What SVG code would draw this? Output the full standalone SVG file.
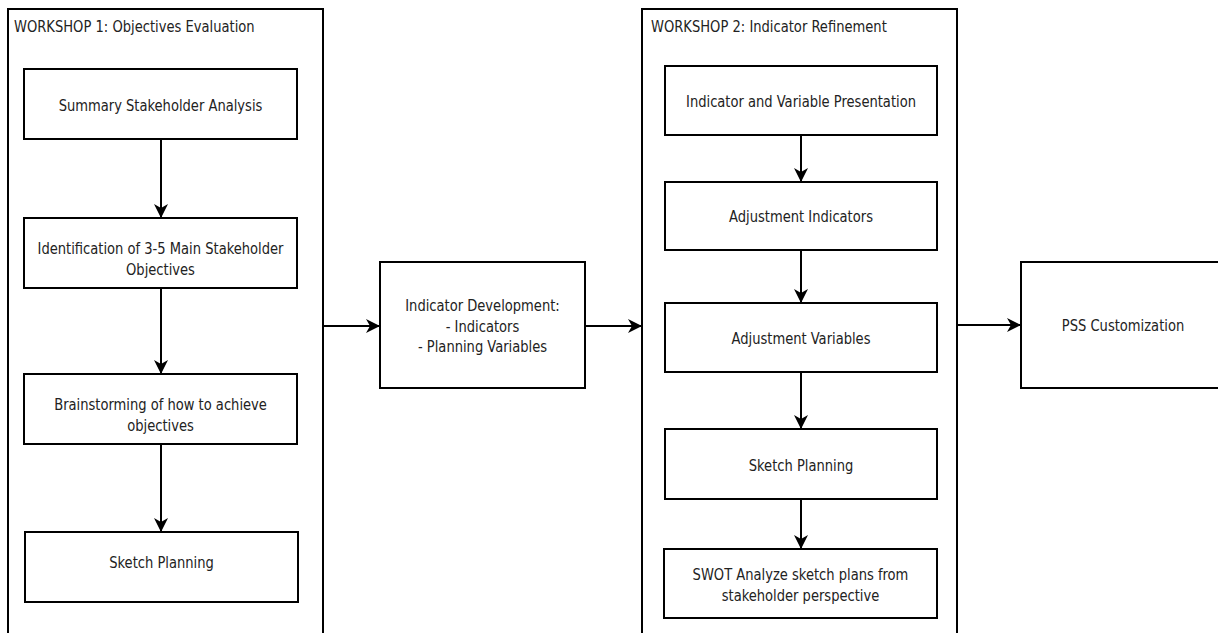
<svg xmlns="http://www.w3.org/2000/svg" width="1218" height="633" viewBox="0 0 1218 633">
<defs>
<style>
.c{fill:#fff;stroke:#000;stroke-width:2}
.b{fill:#fff;stroke:#000;stroke-width:2}
.t{font-family:"DejaVu Sans Condensed","DejaVu Sans",sans-serif;font-size:16px;fill:#222;text-anchor:middle}
.h{font-family:"DejaVu Sans Condensed","DejaVu Sans",sans-serif;font-size:15.5px;fill:#222}
.e{fill:none;stroke:#000;stroke-width:2}
</style>
<marker id="a" viewBox="0 0 14 14" refX="13" refY="7" markerWidth="14" markerHeight="14" markerUnits="userSpaceOnUse" orient="auto">
<path d="M0,0 L14,7 L0,14 L4,7 Z" fill="#000"/>
</marker>
</defs>
<rect width="1218" height="633" fill="#fff"/>
<g id="workshop1">
<rect class="c" x="8" y="9" width="315" height="640"/>
<text class="h" transform="translate(14,31.5) scale(0.94,1)">WORKSHOP 1: Objectives Evaluation</text>
</g>
<g id="workshop2">
<rect class="c" x="642" y="9" width="315" height="640"/>
<text class="h" transform="translate(651,32) scale(0.94,1)">WORKSHOP 2: Indicator Refinement</text>
</g>
<g id="w1n1">
<rect class="b" x="24" y="69" width="273" height="70"/>
<text class="t" transform="translate(160.5,111) scale(0.91,1)">Summary Stakeholder Analysis</text>
</g>
<g id="w1n2">
<rect class="b" x="24" y="218" width="273" height="70"/>
<text class="t" transform="translate(160.5,254) scale(0.91,1)">Identification of 3-5 Main Stakeholder</text>
<text class="t" transform="translate(160.5,274.5) scale(0.91,1)">Objectives</text>
</g>
<g id="w1n3">
<rect class="b" x="24" y="374" width="273" height="70"/>
<text class="t" transform="translate(160.5,410) scale(0.91,1)">Brainstorming of how to achieve</text>
<text class="t" transform="translate(160.5,430.5) scale(0.91,1)">objectives</text>
</g>
<g id="w1n4">
<rect class="b" x="25" y="532" width="273" height="70"/>
<text class="t" transform="translate(161.5,567.5) scale(0.91,1)">Sketch Planning</text>
</g>
<g id="mid">
<rect class="b" x="380" y="262" width="205" height="126"/>
<text class="t" transform="translate(482.5,310.5) scale(0.91,1)">Indicator Development:</text>
<text class="t" transform="translate(482.5,331.5) scale(0.91,1)">- Indicators</text>
<text class="t" transform="translate(482.5,352) scale(0.91,1)">- Planning Variables</text>
</g>
<g id="w2n1">
<rect class="b" x="665" y="66" width="272" height="69"/>
<text class="t" transform="translate(801,106.5) scale(0.91,1)">Indicator and Variable Presentation</text>
</g>
<g id="w2n2">
<rect class="b" x="665" y="182" width="272" height="68"/>
<text class="t" transform="translate(801,221.5) scale(0.91,1)">Adjustment Indicators</text>
</g>
<g id="w2n3">
<rect class="b" x="665" y="303" width="272" height="69"/>
<text class="t" transform="translate(801,344) scale(0.91,1)">Adjustment Variables</text>
</g>
<g id="w2n4">
<rect class="b" x="665" y="429" width="272" height="70"/>
<text class="t" transform="translate(801,470.5) scale(0.91,1)">Sketch Planning</text>
</g>
<g id="w2n5">
<rect class="b" x="664" y="549" width="273" height="69"/>
<text class="t" transform="translate(800.5,580) scale(0.91,1)">SWOT Analyze sketch plans from</text>
<text class="t" transform="translate(800.5,600.5) scale(0.91,1)">stakeholder perspective</text>
</g>
<g id="pss">
<rect class="b" x="1021" y="262" width="210" height="126"/>
<text class="t" transform="translate(1123,331) scale(0.91,1)">PSS Customization</text>
</g>
<g id="connectors">
<path class="e" d="M161,139 V217" marker-end="url(#a)"/>
<path class="e" d="M161,288 V373" marker-end="url(#a)"/>
<path class="e" d="M161,444 V531" marker-end="url(#a)"/>
<path class="e" d="M323,326 H379" marker-end="url(#a)"/>
<path class="e" d="M585,326 H641" marker-end="url(#a)"/>
<path class="e" d="M801,135 V181" marker-end="url(#a)"/>
<path class="e" d="M801,250 V302" marker-end="url(#a)"/>
<path class="e" d="M801,372 V428" marker-end="url(#a)"/>
<path class="e" d="M801,499 V548" marker-end="url(#a)"/>
<path class="e" d="M957,325 H1020" marker-end="url(#a)"/>
</g>
</svg>
